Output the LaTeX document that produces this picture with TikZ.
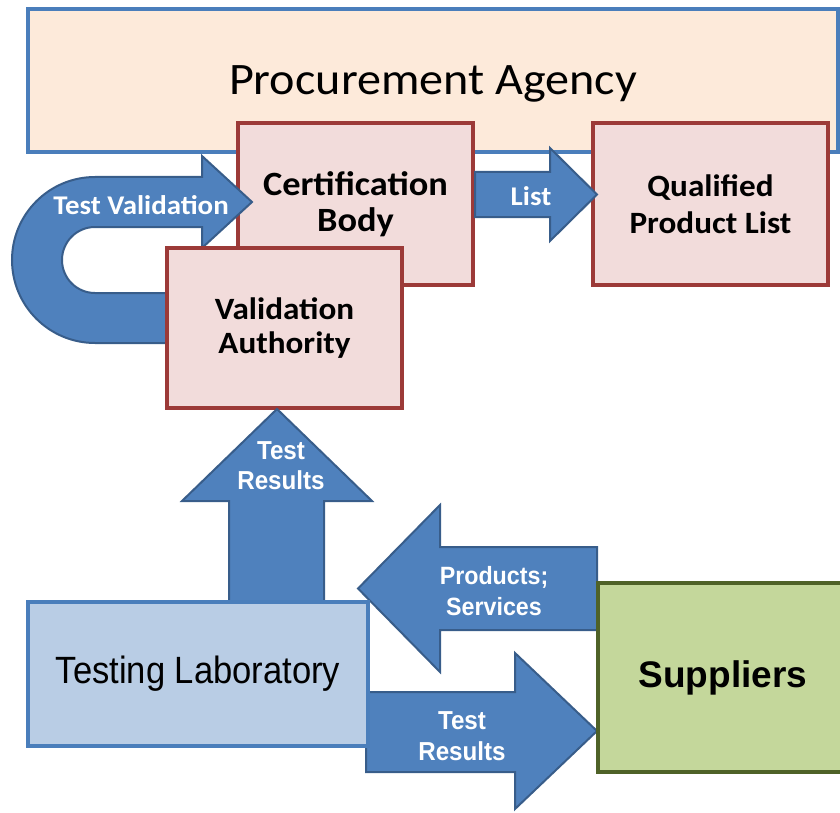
\documentclass[tikz,border=0pt]{standalone}
\usepackage{fontspec}
\newfontfamily\calfont[FakeStretch=1.07]{Carlito}
\newfontfamily\labfont[FakeStretch=0.91]{Liberation Sans}
\newfontfamily\arrfont[FakeStretch=0.93]{Liberation Sans}
\newfontfamily\supfont{Liberation Sans}
\definecolor{agencyfill}{HTML}{FDEADA}
\definecolor{agencyline}{HTML}{4A7EBB}
\definecolor{boxfill}{HTML}{F2DCDB}
\definecolor{boxline}{HTML}{9C3A38}
\definecolor{arrowfill}{HTML}{4F81BD}
\definecolor{arrowline}{HTML}{385D8A}
\definecolor{labfill}{HTML}{B9CDE5}
\definecolor{labline}{HTML}{4A7EBB}
\definecolor{supfill}{HTML}{C4D79B}
\definecolor{supline}{HTML}{4F6228}

\begin{document}
\begin{tikzpicture}[x=1pt,y=-1pt,
    box/.style={draw, line width=3.5pt, inner sep=0pt, outer sep=0pt, align=center},
    redbox/.style={box, draw=boxline, fill=boxfill, minimum width=235pt},
    blockarrow/.style={draw=arrowline, fill=arrowfill, line width=2pt, line join=miter},
    arrowtext/.style={text=white, align=center, inner sep=0pt}]
        \useasboundingbox (0,0) rectangle (840,813);
        \node[box, draw=agencyline, fill=agencyfill, minimum width=810pt, minimum height=143pt, text depth=0pt, font=\calfont\fontsize{45}{54}\selectfont] (agency) at (433,80.5) {Procurement Agency};
        \node[redbox, minimum height=162pt, font=\calfont\bfseries\fontsize{34}{36}\selectfont] (cert) at (355.5,204) {Certification\\Body};
        \node[redbox, minimum height=162pt, font=\calfont\bfseries\fontsize{31}{37}\selectfont] (qpl) at (710.5,204) {Qualified\\Product List};
        \filldraw[blockarrow] (475,172) -- (550,172) -- (550,148) -- (597,194.5) -- (550,241) -- (550,217) -- (475,217) -- cycle;
        \filldraw[blockarrow] (252,202) -- (202,156) -- (202,177) -- (95,177) arc[start angle=-90, end angle=-270, radius=83] -- (190,343) -- (190,293) -- (95,293) arc[start angle=90, end angle=270, radius=33] -- (202,227) -- (202,248) -- cycle;
        \node[redbox, minimum height=160pt, font=\calfont\bfseries\fontsize{31}{34}\selectfont] (valid) at (284.5,328) {Validation\\Authority};
        \filldraw[blockarrow] (229,602) -- (229,501) -- (182,501) -- (277,409) -- (372,501) -- (324,501) -- (324,602) -- cycle;
        \filldraw[blockarrow] (597,547) -- (440,547) -- (440,505) -- (358,588.5) -- (440,672) -- (440,630) -- (597,630) -- cycle;
        \filldraw[blockarrow] (366,692) -- (515,692) -- (515,653) -- (597,731) -- (515,809) -- (515,772) -- (366,772) -- cycle;
        \node[box, draw=labline, fill=labfill, minimum width=340pt, minimum height=144pt, font=\labfont\fontsize{38}{44}\selectfont] (lab) at (198,674) {Testing Laboratory};
        \node[box, draw=supline, fill=supfill, minimum width=250pt, minimum height=189pt, font=\supfont\bfseries\fontsize{37}{44}\selectfont] (sup) at (723,677.5) {Suppliers};
        % arrow labels
        \node[arrowtext, font=\calfont\bfseries\fontsize{27}{30}\selectfont] (tvtext) at (141,205) {Test Validation};
        \node[arrowtext, font=\calfont\bfseries\fontsize{27}{30}\selectfont] (listtext) at (531,196) {List};
        \node[arrowtext, font=\arrfont\bfseries\fontsize{26}{30}\selectfont] (uptext) at (281,466) {Test\\Results};
        \node[arrowtext, font=\arrfont\bfseries\fontsize{25}{31}\selectfont] (prodtext) at (494,591) {Products;\\Services};
        \node[arrowtext, font=\arrfont\bfseries\fontsize{26}{31}\selectfont] (downtext) at (462,736) {Test\\Results};
    \end{tikzpicture}
\end{document}
